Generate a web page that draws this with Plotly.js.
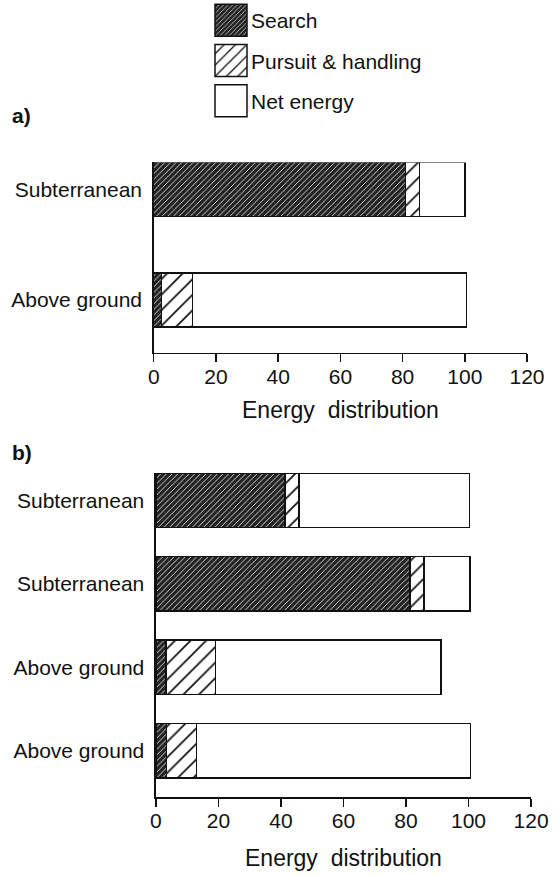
<!DOCTYPE html>
<html>
<head>
<meta charset="utf-8">
<script src="https://cdn.plot.ly/plotly-3.0.1.min.js"></script>
<style>html,body{margin:0;padding:0;background:#fff;}#chart{width:559px;height:875px;}</style>
</head>
<body>
<div id="chart"></div>
<script>
// Panel a (bottom to top)
const catsA = ['Above ground', 'Subterranean'];
const searchA = [2.5, 81];
const pursuitA = [10, 4.5];
const netA = [88, 14.5];

// Panel b (bottom to top)
const catsB = ['Above ground', 'Above ground', 'Subterranean', 'Subterranean'];
const searchB = [3.3, 3.2, 81.3, 41.3];
const pursuitB = [9.7, 15.8, 4.5, 4.5];
const netB = [87.7, 72.2, 14.7, 54.5];

const seriesNames = ['Search', 'Pursuit & handling', 'Net energy'];
const xTicks = [0, 20, 40, 60, 80, 100, 120];
const xTitle = 'Energy\u00a0 distribution';

const FONT = '"Liberation Sans", Arial, Helvetica, sans-serif';
const line = {color: '#111', width: 1.5};
const styles = [
  {color: '#222', line: line, pattern: {shape: '/', bgcolor: '#222', fgcolor: '#e8e8e8', size: 4, solidity: 0.22, fillmode: 'replace'}},
  {color: '#fff', line: line, pattern: {shape: '/', bgcolor: '#fff', fgcolor: '#111', size: 11, solidity: 0.16, fillmode: 'replace'}},
  {color: '#fff', line: line}
];

const idxA = catsA.map((_, i) => i);
const idxB = catsB.map((_, i) => i);
const valsA = [searchA, pursuitA, netA];
const valsB = [searchB, pursuitB, netB];

const traces = [];
valsA.forEach((v, k) => traces.push({
  type: 'bar', orientation: 'h', x: v, y: idxA, width: 0.49,
  name: seriesNames[k], legendgroup: 'g' + k, marker: styles[k],
  xaxis: 'x', yaxis: 'y', hoverinfo: 'x+name'
}));
valsB.forEach((v, k) => traces.push({
  type: 'bar', orientation: 'h', x: v, y: idxB, width: 0.65,
  name: seriesNames[k], legendgroup: 'g' + k, showlegend: false, marker: styles[k],
  xaxis: 'x2', yaxis: 'y2', hoverinfo: 'x+name'
}));

const xAxisBase = {
  range: [0, 120], tickvals: xTicks, ticktext: xTicks.map(String),
  ticks: 'outside', ticklen: 8, tickwidth: 1.5, tickcolor: '#111', ticklabelstandoff: -4,
  showline: true, linewidth: 1.5, linecolor: '#111', showgrid: false, zeroline: false,
  tickfont: {family: FONT, size: 21, color: '#111'}
};
const yAxisBase = {
  showline: true, linewidth: 1.5, linecolor: '#111', showgrid: false, zeroline: false,
  ticks: '', ticklabelstandoff: 6,
  tickfont: {family: FONT, size: 21, color: '#111'}
};

const titleFont = {family: FONT, size: 23, color: '#111'};
const panelFont = {family: FONT, size: 21, color: '#111'};

const layout = {
  width: 559, height: 875,
  margin: {l: 0, r: 0, t: 0, b: 0},
  paper_bgcolor: '#fff', plot_bgcolor: '#fff',
  barmode: 'stack', bargap: 0,
  font: {family: FONT, color: '#111'},
  showlegend: true,
  legend: {
    x: 211 / 559, xanchor: 'left', y: 1, yanchor: 'top',
    traceorder: 'grouped', tracegroupgap: 10,
    font: {family: FONT, size: 21, color: '#111'},
    bgcolor: 'rgba(0,0,0,0)', borderwidth: 0
  },
  xaxis: Object.assign({}, xAxisBase, {domain: [0.275, 0.9428], anchor: 'y'}),
  yaxis: Object.assign({}, yAxisBase, {domain: [0.5966, 0.8144], anchor: 'x',
    range: [-0.48, 1.245], tickvals: idxA, ticktext: catsA}),
  xaxis2: Object.assign({}, xAxisBase, {domain: [0.279, 0.950], anchor: 'y2'}),
  yaxis2: Object.assign({}, yAxisBase, {domain: [0.0891, 0.4594], anchor: 'x2',
    range: [-0.555, 3.325], tickvals: idxB, ticktext: catsB}),
  annotations: [
    {text: '<b>a)</b>', xref: 'paper', yref: 'paper', x: 10 / 559, y: (875 - 116) / 875,
     xanchor: 'left', yanchor: 'middle', showarrow: false, font: panelFont},
    {text: '<b>b)</b>', xref: 'paper', yref: 'paper', x: 10 / 559, y: (875 - 452) / 875,
     xanchor: 'left', yanchor: 'middle', showarrow: false, font: panelFont},
    {text: xTitle, xref: 'x domain', yref: 'paper', x: 0.5, y: (875 - 410) / 875,
     xanchor: 'center', yanchor: 'middle', showarrow: false, font: titleFont},
    {text: xTitle, xref: 'x2 domain', yref: 'paper', x: 0.5, y: (875 - 858) / 875,
     xanchor: 'center', yanchor: 'middle', showarrow: false, font: titleFont}
  ]
};

Plotly.newPlot('chart', traces, layout, {staticPlot: true, displayModeBar: false}).then(() => {
  document.querySelectorAll('.legend path.legendbar, .legend .legendpoints path').forEach(p => {
    p.setAttribute('d', 'M16,16H-16V-16H16Z');
  });
});
</script>
</body>
</html>
